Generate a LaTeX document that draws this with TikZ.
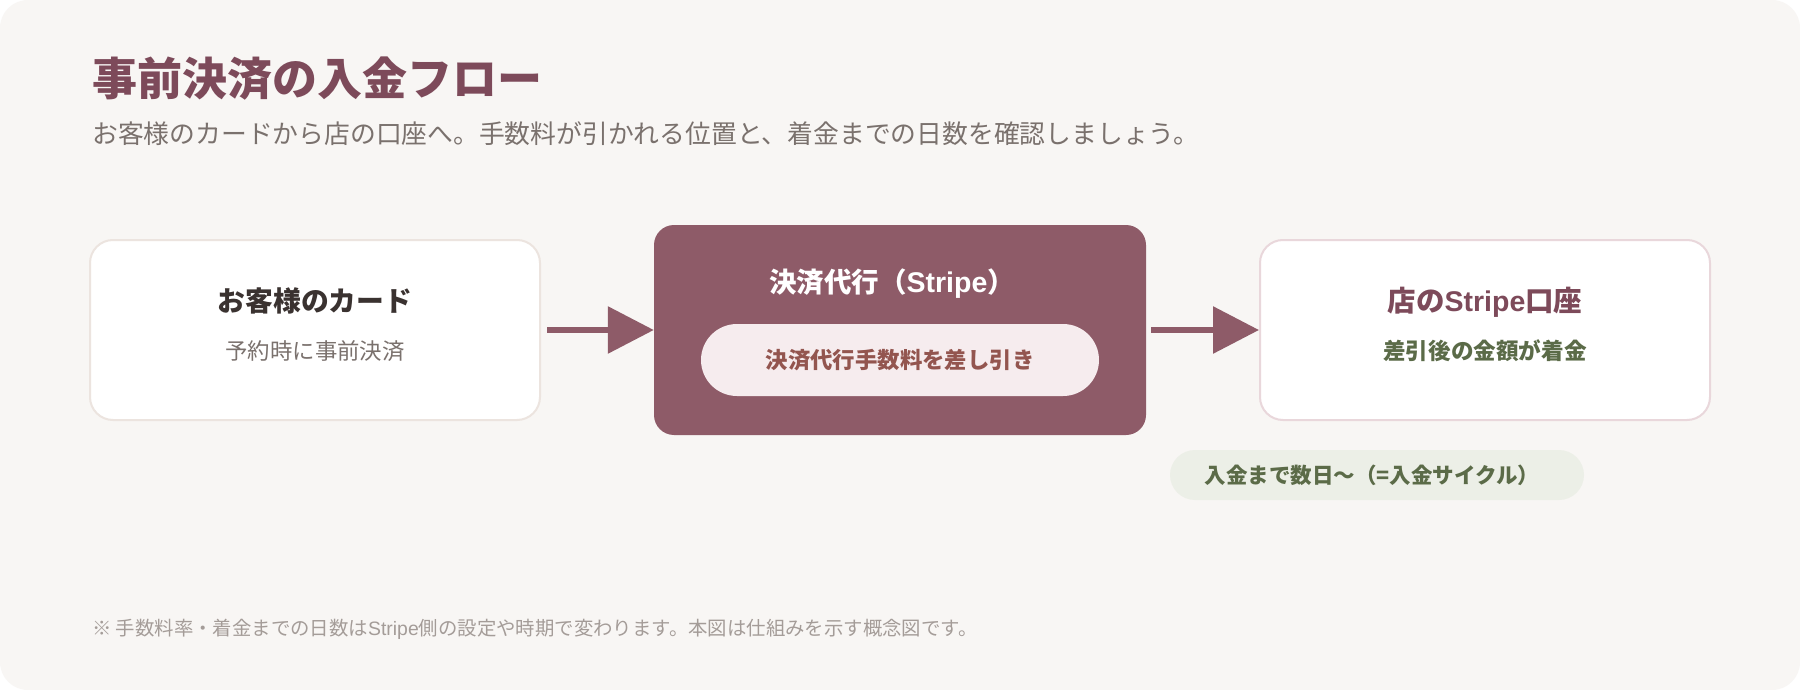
\documentclass[tikz,border=0pt]{standalone}
\usepackage{fontspec}
\setmainfont{Noto Sans CJK JP}
\newfontfamily\lat{Liberation Sans}
\usetikzlibrary{arrows.meta}
\definecolor{bgc}{HTML}{F8F6F4}
\definecolor{mauve}{HTML}{8E5B68}
\definecolor{titlec}{HTML}{7D4A5A}
\definecolor{subc}{HTML}{7A716D}
\definecolor{darkc}{HTML}{3A3230}
\definecolor{brd1}{HTML}{ECE4DF}
\definecolor{brd3}{HTML}{E9D7DB}
\definecolor{pinkfill}{HTML}{F6ECEE}
\definecolor{feec}{HTML}{93554F}
\definecolor{greenc}{HTML}{5B6B48}
\definecolor{greenfill}{HTML}{ECEFE7}
\definecolor{footc}{HTML}{A49C98}
\tikzset{
  card/.style={draw=brd1, line width=2pt, fill=white, rounded corners=23pt, minimum width=450pt, minimum height=180pt, inner sep=0pt},
  mainbox/.style={fill=mauve, rounded corners=20pt, minimum width=492pt, minimum height=210pt, inner sep=0pt},
  pillbox/.style={rounded corners=#1, inner sep=0pt},
  txt/.style={inner sep=0pt},
  arr/.style={draw=mauve, line width=6pt, -{Triangle[length=46pt,width=46pt]}}
}
\begin{document}
\begin{tikzpicture}[x=1pt,y=-1pt]
\useasboundingbox (0,0) rectangle (1800,690);
\fill[white] (0,0) rectangle (1800,690);
\fill[bgc, rounded corners=28pt] (0,0) rectangle (1800,690);

\node[txt, anchor=west, text=titlec, font=\fontsize{45}{50}\selectfont\bfseries] (title) at (92,79) {事前決済の入金フロー};
\node[txt, anchor=west, text=subc, font=\fontsize{25.8}{30}\selectfont] (subtitle) at (92,134) {お客様のカードから店の口座へ。手数料が引かれる位置と、着金までの日数を確認しましょう。};

\node[card] (card) at (315,330) {};
\node[txt, text=darkc, font=\fontsize{27.8}{32}\selectfont\bfseries] (cardt) at (315,301) {お客様のカード};
\node[txt, text=subc, font=\fontsize{22.4}{26}\selectfont] (cards) at (315,351) {予約時に事前決済};

\node[mainbox] (stripe) at (900,330) {};
\node[txt, text=white, font=\fontsize{27.5}{30}\selectfont\bfseries] (stripet) at (892,284) {決済代行（{\lat\bfseries\fontsize{28.5}{30}\selectfont Stripe}）};
\node[pillbox=36pt, fill=pinkfill, minimum width=398pt, minimum height=72pt] (fee) at (900,360) {};
\node[txt, text=feec, font=\fontsize{22.4}{26}\selectfont\bfseries] (feet) at (900,360) {決済代行手数料を差し引き};

\node[card, draw=brd3] (shop) at (1485,330) {};
\node[txt, text=titlec, font=\fontsize{28.5}{32}\selectfont\bfseries] (shopt) at (1485,302) {店の{\lat\bfseries Stripe}口座};
\node[txt, text=greenc, font=\fontsize{22.6}{26}\selectfont\bfseries] (shops) at (1485,351) {差引後の金額が着金};

\node[pillbox=25pt, fill=greenfill, minimum width=414pt, minimum height=50pt] (cycle) at (1377,475) {};
\node[txt, text=greenc, font=\fontsize{21.5}{25}\selectfont\bfseries] (cyclet) at (1372,475) {入金まで数日〜（=入金サイクル）};

\draw[arr, shorten <=6pt] (card.east) -- (stripe.west);
\draw[arr, shorten <=5pt] (stripe.east) -- (shop.west);

\node[txt, anchor=west, text=footc, font=\fontsize{19.4}{23}\selectfont] (foot) at (92,629) {※ 手数料率・着金までの日数は{\lat Stripe}側の設定や時期で変わります。本図は仕組みを示す概念図です。};
\end{tikzpicture}
\end{document}
